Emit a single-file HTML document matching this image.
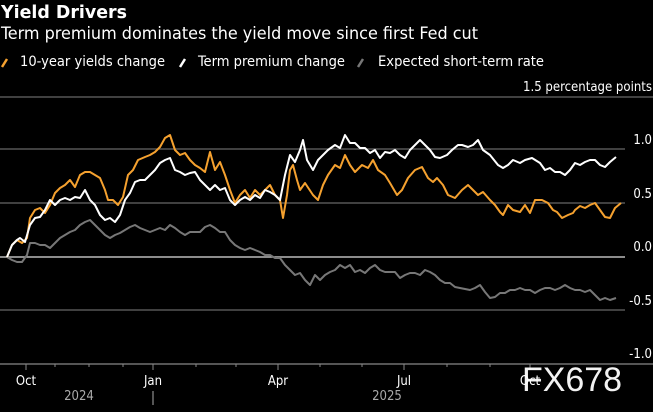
<!DOCTYPE html>
<html><head><style>
html,body{margin:0;padding:0;background:#000;}
body{width:653px;height:412px;overflow:hidden;font-family:"DejaVu Sans Condensed","Liberation Sans",sans-serif;}
</style></head><body>
<svg width="653" height="412" xmlns="http://www.w3.org/2000/svg" style="position:absolute;left:0;top:0">
<rect width="653" height="412" fill="#000"/>
<text x="1" y="18" fill="#fff" font-size="18" font-weight="bold" font-family="DejaVu Sans Condensed, Liberation Sans, sans-serif" textLength="126" lengthAdjust="spacingAndGlyphs">Yield Drivers</text>
<text x="1" y="39" fill="#fff" font-size="16.5" font-family="DejaVu Sans Condensed, Liberation Sans, sans-serif" textLength="477" lengthAdjust="spacingAndGlyphs">Term premium dominates the yield move since first Fed cut</text>
<g font-size="14" fill="#fff" font-family="DejaVu Sans Condensed, Liberation Sans, sans-serif">
<line x1="2" y1="67" x2="7" y2="59" stroke="#f5a12f" stroke-width="2.5"/>
<text x="20" y="66" textLength="145" lengthAdjust="spacingAndGlyphs">10-year yields change</text>
<line x1="180" y1="67" x2="185" y2="59" stroke="#fff" stroke-width="2.5"/>
<text x="198" y="66" textLength="147" lengthAdjust="spacingAndGlyphs">Term premium change</text>
<line x1="358" y1="67" x2="363" y2="59" stroke="#777" stroke-width="2.5"/>
<text x="378" y="66" textLength="166" lengthAdjust="spacingAndGlyphs">Expected short-term rate</text>
<text x="523" y="91" font-size="13" textLength="129" lengthAdjust="spacingAndGlyphs">1.5 percentage points</text>
</g>
<g stroke="#666" stroke-width="1.3">
<line x1="0" y1="97" x2="653" y2="97"/>
<line x1="0" y1="149" x2="625" y2="149"/>
<line x1="0" y1="203" x2="625" y2="203"/>
<line x1="0" y1="310" x2="625" y2="310"/>
</g>
<line x1="0" y1="257" x2="625" y2="257" stroke="#bbb" stroke-width="1.5"/>
<line x1="0" y1="364" x2="653" y2="364" stroke="#888" stroke-width="1.3"/>
<g font-size="13" fill="#fff" text-anchor="end" font-family="DejaVu Sans Condensed, Liberation Sans, sans-serif">
<text x="652" y="144">1.0</text><text x="652" y="198">0.5</text><text x="652" y="251">0.0</text><text x="652" y="305">-0.5</text><text x="652" y="358">-1.0</text>
</g>
<g stroke="#888" stroke-width="1">
<line x1="26" y1="364" x2="26" y2="370"/><line x1="55" y1="364" x2="55" y2="367"/><line x1="89" y1="364" x2="89" y2="367"/><line x1="123" y1="364" x2="123" y2="367"/>
<line x1="153" y1="364" x2="153" y2="370"/><line x1="196" y1="364" x2="196" y2="367"/><line x1="236" y1="364" x2="236" y2="367"/>
<line x1="278" y1="364" x2="278" y2="370"/><line x1="320" y1="364" x2="320" y2="367"/><line x1="362" y1="364" x2="362" y2="367"/>
<line x1="404" y1="364" x2="404" y2="370"/><line x1="447" y1="364" x2="447" y2="367"/><line x1="490" y1="364" x2="490" y2="367"/>
<line x1="530" y1="364" x2="530" y2="370"/>
<line x1="153" y1="391" x2="153" y2="405" stroke="#aaa"/>
</g>
<g font-size="13" fill="#fff" text-anchor="middle" font-family="DejaVu Sans Condensed, Liberation Sans, sans-serif">
<text x="26" y="385">Oct</text><text x="153" y="385">Jan</text><text x="278" y="385">Apr</text><text x="404" y="385">Jul</text><text x="530" y="385">Oct</text>
<text x="79" y="400" fill="#aaa">2024</text><text x="387" y="400" fill="#aaa">2025</text>
</g>
<g fill="none" stroke-width="2" stroke-linejoin="round">
<polyline stroke="#777" points="7,257 12,260 17,262 22,262 27,255 30,243 35,243 40,245 45,245 50,248 55,243 60,238 65,235 70,232 75,230 80,225 85,222 90,220 95,225 100,230 105,235 110,238 115,235 120,233 125,230 130,227 135,225 140,228 145,230 150,232 155,230 160,228 165,230 170,225 175,228 180,232 185,235 190,232 195,232 200,232 205,227 210,225 215,228 220,232 225,232 230,240 235,245 240,248 245,250 250,248 255,250 260,252 265,255 270,255 275,258 280,258 285,265 290,270 295,275 300,273 305,280 310,285 315,275 320,280 325,275 330,272 335,270 340,265 345,268 350,265 355,272 360,270 365,273 370,268 375,265 380,270 385,272 390,272 395,272 400,278 405,275 410,273 415,273 420,275 425,270 430,272 435,275 440,280 445,283 450,283 455,287 460,288 465,289 470,290 475,288 480,285 485,292 490,298 495,297 500,293 505,293 510,290 515,290 520,288 525,290 530,290 535,293 540,290 545,288 550,288 555,290 560,288 565,285 570,288 575,290 580,290 585,292 590,290 595,295 600,300 605,298 610,300 616,298"/>
<polyline stroke="#f5a12f" points="7,257 12,245 17,240 22,243 27,238 30,218 35,210 40,208 45,213 50,205 55,193 60,188 65,185 70,180 75,187 80,175 85,172 90,172 95,175 100,178 105,190 108,200 113,200 118,205 123,197 128,175 133,170 138,160 145,157 150,155 155,152 160,147 165,138 170,135 175,150 180,155 185,153 190,160 195,165 200,168 205,172 210,152 215,170 220,162 225,175 230,190 235,203 240,195 245,190 250,198 255,190 260,195 265,190 270,185 275,195 280,200 283,218 287,195 290,170 293,165 297,180 300,190 305,183 313,195 318,200 323,185 328,175 335,165 340,168 345,155 350,165 355,172 362,165 368,168 373,160 378,170 385,175 390,183 397,195 402,190 408,178 415,170 422,167 428,178 433,182 437,178 443,185 448,195 455,198 462,190 468,185 473,190 478,195 483,192 490,200 495,205 500,212 503,215 508,205 513,210 520,212 525,205 530,213 535,200 542,200 548,203 553,210 557,212 562,218 568,215 573,213 575,210 580,206 585,208 590,205 595,203 600,210 605,217 610,218 615,208 621,203"/>
<polyline stroke="#fff" points="7,257 12,245 17,240 20,238 25,242 30,225 35,218 40,217 45,210 50,200 55,205 60,200 65,198 70,200 75,197 80,198 85,190 90,200 95,205 100,215 105,220 110,218 115,222 120,215 125,200 130,193 135,182 140,180 145,180 150,175 155,170 160,163 165,160 170,158 175,170 180,172 185,175 190,173 195,172 200,180 205,185 210,190 215,185 220,190 225,188 230,200 235,205 240,200 245,197 250,200 255,195 260,198 265,190 270,192 275,195 280,200 285,175 290,155 295,162 300,150 303,140 307,160 313,170 318,160 323,155 328,150 335,145 340,148 345,135 350,143 355,143 360,148 365,148 370,153 375,150 380,158 385,152 390,153 395,150 400,155 405,158 410,150 415,145 420,140 425,145 430,150 435,157 440,158 447,155 452,150 458,145 462,145 468,147 473,145 478,140 483,150 490,155 498,165 503,168 508,165 513,160 520,163 525,160 532,158 540,163 545,170 550,168 555,172 560,172 565,175 570,170 575,163 580,165 585,162 590,160 595,160 600,165 605,167 610,162 616,157"/>
</g>
<text x="522" y="391" fill="#fff" font-size="34" font-family="Liberation Sans, sans-serif" textLength="100" opacity="0.95">FX678</text>
</svg>
</body></html>
